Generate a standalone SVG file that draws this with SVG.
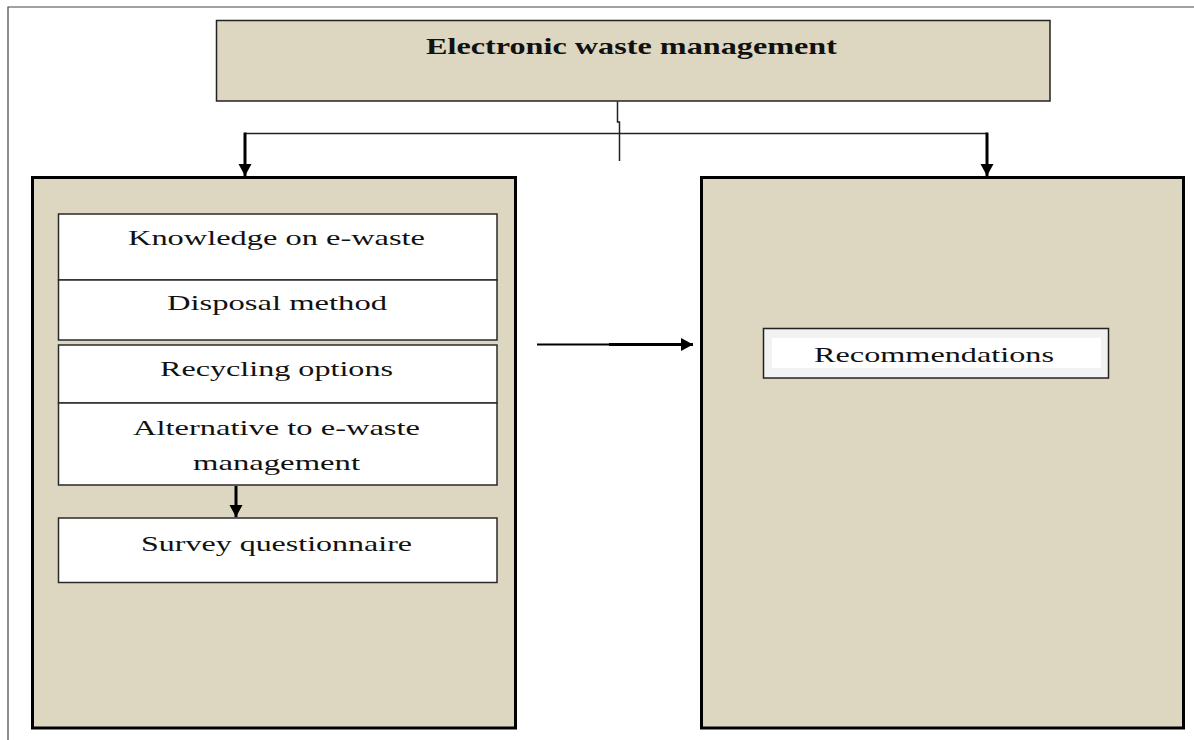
<svg xmlns="http://www.w3.org/2000/svg" width="1194" height="740" viewBox="0 0 1194 740">
<style>
.tan{fill:#ddd7c1;}
.big{fill:#ddd7c1;stroke:#000;stroke-width:3;}
.inner{fill:#fff;stroke:#2a2a2a;stroke-width:1.5;}
.thin{stroke:#222;stroke-width:1.5;fill:none;}
.thick{stroke:#000;stroke-width:3;fill:none;}
text{font-family:"Liberation Serif","Times New Roman",serif;fill:#111;text-anchor:middle;}
.t{font-size:22px;}
.title{font-size:23px;font-weight:bold;}
</style>
<defs>
<marker id="ah" markerUnits="userSpaceOnUse" markerWidth="14" markerHeight="14" refX="12" refY="7" orient="auto">
<path d="M0,0.5 L12,7 L0,13.5 Z" fill="#000"/>
</marker>
</defs>
<rect width="1194" height="740" fill="#fff"/>
<g id="frame">
<path d="M8,740 V7 H1194" fill="none" stroke="#444" stroke-width="1.2"/>
</g>
<g id="node-top">
<rect x="216.5" y="20.5" width="833.5" height="80.5" class="tan" stroke="#222" stroke-width="1.5"/>
<text class="title" x="631.5" y="54" textLength="411" lengthAdjust="spacingAndGlyphs">Electronic waste management</text>
</g>
<g id="node-left">
<rect x="32.5" y="177.5" width="483" height="550.5" class="big"/>
</g>
<g id="node-right">
<rect x="701.5" y="177.5" width="482" height="550.5" class="big"/>
</g>
<g id="node-knowledge">
<rect x="58.5" y="214" width="438.5" height="66" class="inner"/>
<text class="t" x="276.5" y="245" textLength="297" lengthAdjust="spacingAndGlyphs">Knowledge on e-waste</text>
</g>
<g id="node-disposal">
<rect x="58.5" y="280" width="438.5" height="60" class="inner"/>
<text class="t" x="277" y="310" textLength="220" lengthAdjust="spacingAndGlyphs">Disposal method</text>
</g>
<g id="node-recycling">
<rect x="58.5" y="345" width="438.5" height="58" class="inner"/>
<text class="t" x="276.5" y="376" textLength="233" lengthAdjust="spacingAndGlyphs">Recycling options</text>
</g>
<g id="node-alternative">
<rect x="58.5" y="403" width="438.5" height="82" class="inner"/>
<text class="t" x="276.5" y="435" textLength="287" lengthAdjust="spacingAndGlyphs">Alternative to e-waste</text>
<text class="t" x="276.5" y="470" textLength="167" lengthAdjust="spacingAndGlyphs">management</text>
</g>
<g id="node-survey">
<rect x="58.5" y="518" width="438.5" height="64.5" class="inner"/>
<text class="t" x="276.5" y="551" textLength="271" lengthAdjust="spacingAndGlyphs">Survey questionnaire</text>
</g>
<g id="node-recommendations">
<rect x="763.5" y="328.5" width="345" height="49.5" fill="#f2f2f2" stroke="#222" stroke-width="1.5"/>
<rect x="772" y="338" width="329" height="30" fill="#fff"/>
<text class="t" x="934" y="362" textLength="240" lengthAdjust="spacingAndGlyphs">Recommendations</text>
</g>
<g id="connectors">
<path class="thin" d="M617.5,101.5 V122 H619.5 V161"/>
<path class="thin" d="M245,133.5 H987"/>
<path class="thick" d="M245,132.5 V176" marker-end="url(#ah)"/>
<path class="thick" d="M987,132.5 V176" marker-end="url(#ah)"/>
<path class="thick" d="M236,486 V517" marker-end="url(#ah)"/>
<path d="M537,344.5 H609" stroke="#000" stroke-width="2" fill="none"/>
<path d="M609,344.5 H693" stroke="#000" stroke-width="3" fill="none" marker-end="url(#ah)"/>
</g>
</svg>
